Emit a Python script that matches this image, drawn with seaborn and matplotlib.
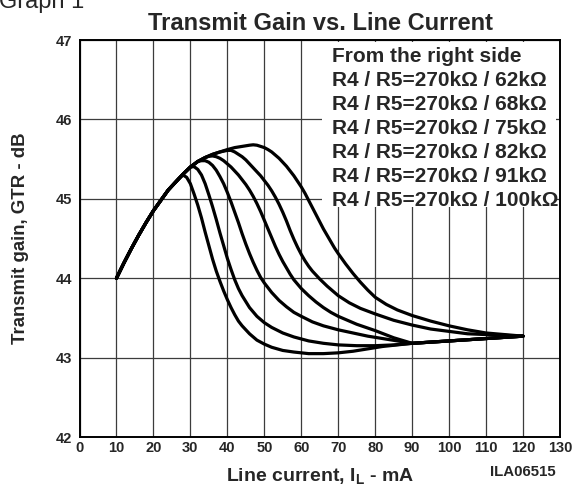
import matplotlib
matplotlib.use("Agg")
import matplotlib.pyplot as plt
import seaborn as sns
import pandas as pd
from matplotlib.patches import Rectangle

# ---------------- data ----------------
labels = ["R4 / R5=270kΩ / 62kΩ", "R4 / R5=270kΩ / 68kΩ", "R4 / R5=270kΩ / 75kΩ",
          "R4 / R5=270kΩ / 82kΩ", "R4 / R5=270kΩ / 91kΩ", "R4 / R5=270kΩ / 100kΩ"]

# shared rising branch (all curves)
rise_x = [10, 12, 14, 16, 18, 20, 22, 24, 26]
rise_y = [44.00, 44.19, 44.37, 44.54, 44.70, 44.85, 44.98, 45.11, 45.21]

x_62k = rise_x + [28, 30, 32, 34, 36, 38, 40, 42, 44, 46, 47, 48, 49, 50, 51, 52, 53, 54, 55, 56, 57,
                  58, 59, 60, 61, 62, 63, 64, 65, 66, 67, 68, 69, 70, 72, 74, 76, 78, 80, 83, 86, 90,
                  95, 100, 105, 110, 115, 120]
y_62k = rise_y + [45.31, 45.40, 45.47, 45.52, 45.56, 45.59, 45.62, 45.645, 45.66, 45.675, 45.68,
                  45.675, 45.66, 45.645, 45.62, 45.59, 45.55, 45.51, 45.46, 45.41, 45.35, 45.29,
                  45.22, 45.15, 45.07, 44.98, 44.89, 44.80, 44.71, 44.62, 44.54, 44.46, 44.38, 44.31,
                  44.18, 44.06, 43.95, 43.85, 43.76, 43.67, 43.60, 43.53, 43.46, 43.40, 43.35, 43.31,
                  43.29, 43.27]

x_68k = rise_x + [28, 30, 32, 34, 36, 38, 40, 41, 42, 43, 44, 45, 46, 47, 48, 49, 50, 51, 52, 53, 54,
                  55, 56, 57, 58, 59, 60, 61, 62, 63, 64, 65, 67, 70, 73, 76, 80, 85, 90, 95, 100, 105,
                  110, 115, 120]
y_68k = rise_y + [45.31, 45.40, 45.47, 45.52, 45.56, 45.59, 45.61, 45.61, 45.59, 45.56, 45.53, 45.49,
                  45.44, 45.39, 45.34, 45.29, 45.23, 45.17, 45.10, 45.02, 44.93, 44.83, 44.72, 44.60,
                  44.49, 44.39, 44.30, 44.22, 44.15, 44.09, 44.04, 43.99, 43.90, 43.78, 43.69, 43.62,
                  43.55, 43.47, 43.41, 43.36, 43.33, 43.30, 43.29, 43.28, 43.27]

x_75k = rise_x + [28, 30, 32, 34, 35, 36, 37, 38, 39, 40, 41, 42, 43, 44, 45, 46, 47, 48, 49, 50, 51,
                  52, 53, 54, 55, 56, 57, 58, 60, 62, 64, 66, 68, 70, 75, 80, 85, 90, 100, 110, 120]
y_75k = rise_y + [45.31, 45.40, 45.47, 45.52, 45.535, 45.54, 45.53, 45.51, 45.48, 45.44, 45.40, 45.35,
                  45.30, 45.24, 45.18, 45.11, 45.03, 44.94, 44.84, 44.73, 44.62, 44.51, 44.40, 44.30,
                  44.21, 44.13, 44.05, 43.98, 43.87, 43.78, 43.70, 43.63, 43.57, 43.52, 43.42, 43.34,
                  43.25, 43.18, 43.21, 43.24, 43.27]

x_82k = rise_x + [28, 30, 32, 33, 34, 35, 36, 37, 38, 39, 40, 41, 42, 43, 44, 45, 46, 47, 48, 49, 50,
                  52, 54, 56, 58, 60, 63, 66, 70, 74, 78, 82, 86, 90, 100, 110, 120]
y_82k = rise_y + [45.31, 45.40, 45.47, 45.48, 45.48, 45.46, 45.42, 45.36, 45.28, 45.19, 45.08, 44.96,
                  44.83, 44.70, 44.56, 44.43, 44.31, 44.20, 44.10, 44.01, 43.94, 43.82, 43.72, 43.64,
                  43.57, 43.52, 43.45, 43.40, 43.35, 43.31, 43.27, 43.24, 43.21, 43.18, 43.21, 43.24,
                  43.27]

x_91k = rise_x + [28, 30, 31, 32, 33, 34, 35, 36, 37, 38, 39, 40, 41, 42, 43, 44, 46, 48, 50, 52, 55,
                  58, 62, 66, 70, 75, 80, 85, 90, 100, 110, 120]
y_91k = rise_y + [45.31, 45.40, 45.405, 45.37, 45.30, 45.19, 45.05, 44.90, 44.74, 44.57, 44.41, 44.25,
                  44.11, 43.98, 43.87, 43.78, 43.63, 43.52, 43.44, 43.38, 43.31, 43.26, 43.21, 43.18,
                  43.16, 43.15, 43.15, 43.16, 43.18, 43.21, 43.24, 43.27]

x_100k = rise_x + [27, 28, 29, 30, 31, 32, 33, 34, 35, 36, 37, 38, 39, 40, 41, 42, 43, 44, 46, 48, 50,
                   52, 55, 58, 62, 66, 70, 74, 78, 82, 86, 90, 100, 110, 120]
y_100k = rise_y + [45.26, 45.30, 45.27, 45.19, 45.06, 44.92, 44.76, 44.58, 44.41, 44.24, 44.09, 43.96,
                   43.84, 43.73, 43.63, 43.54, 43.46, 43.40, 43.30, 43.22, 43.17, 43.13, 43.09, 43.07,
                   43.05, 43.05, 43.06, 43.08, 43.11, 43.14, 43.16, 43.18, 43.21, 43.24, 43.27]

x_ticks = [0, 10, 20, 30, 40, 50, 60, 70, 80, 90, 100, 110, 120, 130]
y_ticks = [42, 43, 44, 45, 46, 47]

title = "Transmit Gain vs. Line Current"
legend_header = "From the right side"
x_label = r"Line current, I$_{\mathrm{L}}$ - mA"
y_label = "Transmit gain, GTR - dB"
code_label = "ILA06515"
graph_label = "Graph 1"

# ---------------- build table ----------------
series = [(labels[0], x_62k, y_62k), (labels[1], x_68k, y_68k), (labels[2], x_75k, y_75k),
          (labels[3], x_82k, y_82k), (labels[4], x_91k, y_91k), (labels[5], x_100k, y_100k)]
frames = [pd.DataFrame({"curve": name, "x": xs, "y": ys}) for name, xs, ys in series]
df = pd.concat(frames, ignore_index=True)

# ---------------- style ----------------
sns.set_style("white")
plt.rcParams["font.family"] = ["Liberation Sans", "DejaVu Sans"]
plt.rcParams["mathtext.fontset"] = "custom"
plt.rcParams["mathtext.rm"] = "Liberation Sans:bold"
plt.rcParams["mathtext.it"] = "Liberation Sans:bold"
plt.rcParams["mathtext.bf"] = "Liberation Sans:bold"
plt.rcParams["lines.solid_joinstyle"] = "round"
plt.rcParams["lines.solid_capstyle"] = "round"

W, H = 573, 486
fig = plt.figure(figsize=(W / 100, H / 100), dpi=100)
L, R, T, B = 79.5, 560.0, 40.0, 437.0
ax = fig.add_axes([L / W, 1 - B / H, (R - L) / W, (B - T) / H])

sns.lineplot(data=df, x="x", y="y", units="curve", estimator=None, sort=False,
             color="black", linewidth=2.3, ax=ax, legend=False, zorder=3)

ax.set_xlim(0, 130)
ax.set_ylim(42, 47)
ax.set_xticks(x_ticks)
ax.set_yticks(y_ticks)
ax.set_xticklabels([str(v) for v in x_ticks], fontsize=10.5, fontweight="bold")
ax.set_yticklabels([str(v) for v in y_ticks], fontsize=10.5, fontweight="bold")
ax.tick_params(axis="both", length=0)
ax.tick_params(axis="y", pad=5.5)
ax.tick_params(axis="x", pad=3)
ax.grid(True, color="#3c3c3c", linewidth=0.9, zorder=0)
ax.set_axisbelow(True)
for s in ax.spines.values():
    s.set_color("black")
    s.set_linewidth(1.4)
    s.set_zorder(5)

ax.set_xlabel(x_label, fontsize=14, fontweight="bold", labelpad=8)
ax.set_ylabel(y_label, fontsize=13.4, fontweight="bold", labelpad=19)

# white block behind the legend text (covers grid)
ax.add_patch(Rectangle(((322 - L) / (R - L), (B - 207) / (B - T)),
                       (556 - 322) / (R - L), (207 - T) / (B - T) - 0.004,
                       transform=ax.transAxes, facecolor="white", edgecolor="none", zorder=2))

legend_lines = [legend_header] + labels
for i, txt in enumerate(legend_lines):
    yb = 62 + i * 24.0
    fig.text(331.5 / W, 1 - yb / H, txt, fontsize=15, fontweight="bold",
             ha="left", va="baseline")

fig.text(320 / W, 1 - 29.5 / H, title, fontsize=17, fontweight="bold", ha="center", va="baseline")
fig.text(-1 / W, 1 - 8 / H, graph_label, fontsize=17, ha="left", va="baseline")
fig.text(556 / W, 1 - 476 / H, code_label, fontsize=10.8, fontweight="bold", ha="right", va="baseline")

fig.savefig("out.png", dpi=100)
